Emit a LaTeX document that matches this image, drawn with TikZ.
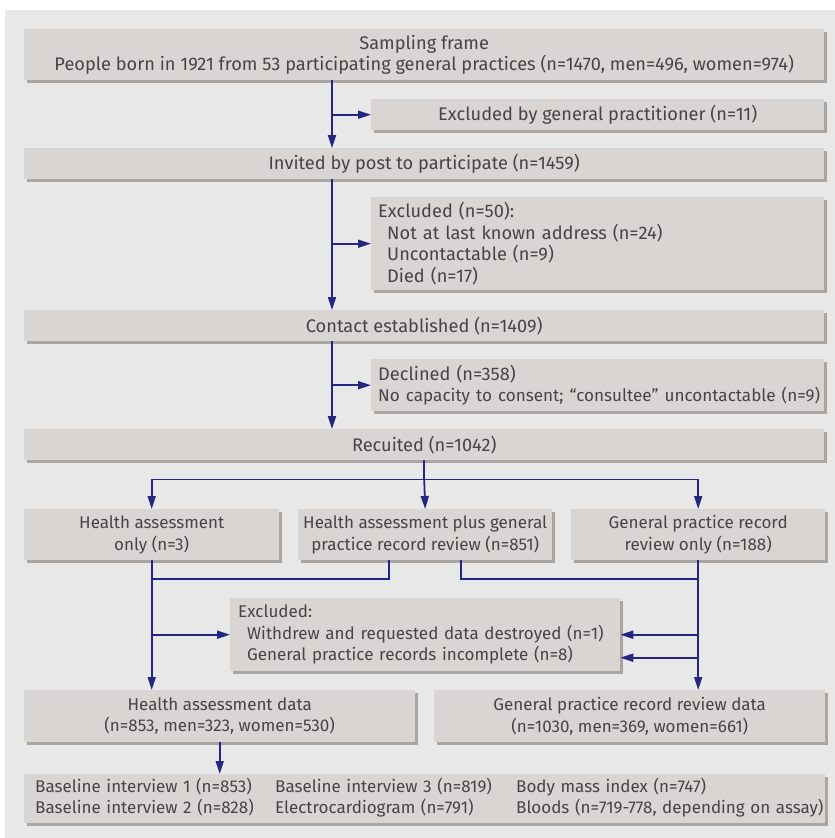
\documentclass[tikz,border=0pt]{standalone}
\usepackage{fontspec}
\setmainfont{Fira Sans}
\usetikzlibrary{arrows.meta,shadows}
\definecolor{panel}{HTML}{E8E8E8}
\definecolor{boxfill}{HTML}{D9D5D2}
\definecolor{boxshade}{HTML}{A9A5A3}
\definecolor{flow}{HTML}{25267F}
\definecolor{ink}{HTML}{454545}
\newcommand{\sub}{\hspace*{9pt}}

\begin{document}
\begin{tikzpicture}[x=1pt, y=-1pt,
  box/.style={fill=boxfill, anchor=north west, inner sep=0pt, text=ink, align=center,
    font=\fontsize{17}{21.5}\selectfont,
    drop shadow={shadow xshift=3pt, shadow yshift=-3pt, fill=boxshade, opacity=1}},
  upper/.style={font=\fontsize{18.2}{21.5}\selectfont},
  listbox/.style={box, align=left, inner xsep=7pt},
  arr/.style={draw=flow, line width=1.8pt, -{Triangle[length=13pt, width=8pt]}},
  line/.style={draw=flow, line width=1.8pt}]

  \useasboundingbox (0,0) rectangle (835,838);
  \fill[panel] (5,10) rectangle (835,838);

  \coordinate (spine) at (332,0);
  \coordinate (merge) at (0,579);

  \node[box, upper, minimum width=800pt, minimum height=51pt] (frame) at (24,29)
    {Sampling frame\\People born in 1921 from 53 participating general practices (n=1470, men=496, women=974)};
  \node[box, upper, minimum width=453pt, minimum height=31pt] (gpexcl) at (371,99)
    {Excluded by general practitioner (n=11)};
  \node[box, upper, minimum width=800pt, minimum height=31pt] (invited) at (24,148)
    {Invited by post to participate (n=1459)};
  \node[listbox, upper, text width=439pt, minimum height=93pt] (addr) at (371,197)
    {Excluded (n=50):\\\sub Not at last known address (n=24)\\\sub Uncontactable (n=9)\\\sub Died (n=17)};
  \node[box, upper, minimum width=800pt, minimum height=31pt] (contact) at (24,310)
    {Contact established (n=1409)};
  \node[listbox, upper, text width=439pt, minimum height=52pt] (declined) at (371,359)
    {Declined (n=358)\\\makebox[439pt][l]{\fontsize{17.1}{21.5}\selectfont No capacity to consent; “consultee” uncontactable (n=9)}};
  \node[box, upper, minimum width=800pt, minimum height=31pt] (recruited) at (24,429)
    {Recuited (n=1042)};

  \node[box, minimum width=255pt, minimum height=51pt] (hao) at (24,509)
    {Health assessment\\only (n=3)};
  \node[box, minimum width=254pt, minimum height=51pt] (hap) at (298,509)
    {Health assessment plus general\\practice record review (n=851)};
  \node[box, minimum width=254pt, minimum height=51pt] (gpo) at (571,509)
    {General practice record\\review only (n=188)};

  \node[listbox, inner xsep=8pt, text width=374pt, minimum height=73pt] (withdrawn) at (230,598)
    {Excluded:\\\sub Withdrew and requested data destroyed (n=1)\\\sub General practice records incomplete (n=8)};

  \node[box, minimum width=391pt, minimum height=52pt] (hadata) at (24,690)
    {Health assessment data\\(n=853, men=323, women=530)};
  \node[box, minimum width=391pt, minimum height=52pt] (gpdata) at (434,690)
    {General practice record review data\\(n=1030, men=369, women=661)};

  \node[listbox, inner xsep=11pt, text width=779pt, minimum height=49pt] (measures) at (24,774)
    {\begin{tabular}{@{}p{240pt}@{}p{241pt}@{}l@{}}
      Baseline interview 1 (n=853) & Baseline interview 3 (n=819) & Body mass index (n=747)\\
      Baseline interview 2 (n=828) & Electrocardiogram (n=791) & Bloods (n=719-778, depending on assay)
     \end{tabular}};

  \draw[arr] (frame.south -| spine) -- (invited.north -| spine); %% frame->invited
  \draw[arr] (spine |- gpexcl.west) -- (gpexcl.west);
  \draw[arr] (invited.south -| spine) -- (contact.north -| spine); %% invited->contact
  \draw[arr] (spine |- addr.west) -- (addr.west);
  \draw[arr] (contact.south -| spine) -- (recruited.north -| spine); %% contact->recruited
  \draw[arr] (spine |- declined.west) -- (declined.west);

  \draw[line] (recruited.south) -- ++(0,19) coordinate (split);
  \draw[arr] (split) -- (hap.north);
  \draw[arr] (split) -| (hao.north);
  \draw[arr] (split) -| (gpo.north);

  \draw[line] ([xshift=-36pt]hap.south) |- (merge -| hao.south);
  \draw[line] ([xshift=36pt]hap.south) |- (merge -| gpo.south);
  \draw[arr] (hao.south) -- (hao.south |- hadata.north); %% hao->hadata
  \draw[arr] (gpo.south) -- (gpo.south |- gpdata.north); %% gpo->gpdata

  \draw[arr] (hao.south |- withdrawn.west) -- (withdrawn.west);
  \draw[arr] (gpo.south |- withdrawn.east) -- (withdrawn.east);
  \draw[arr] ([yshift=-23pt]gpo.south |- withdrawn.east) -- ([yshift=-23pt]withdrawn.east);

  \draw[arr] (hadata.south) -- (hadata.south |- measures.north); %% hadata->measures

\end{tikzpicture}
\end{document}
